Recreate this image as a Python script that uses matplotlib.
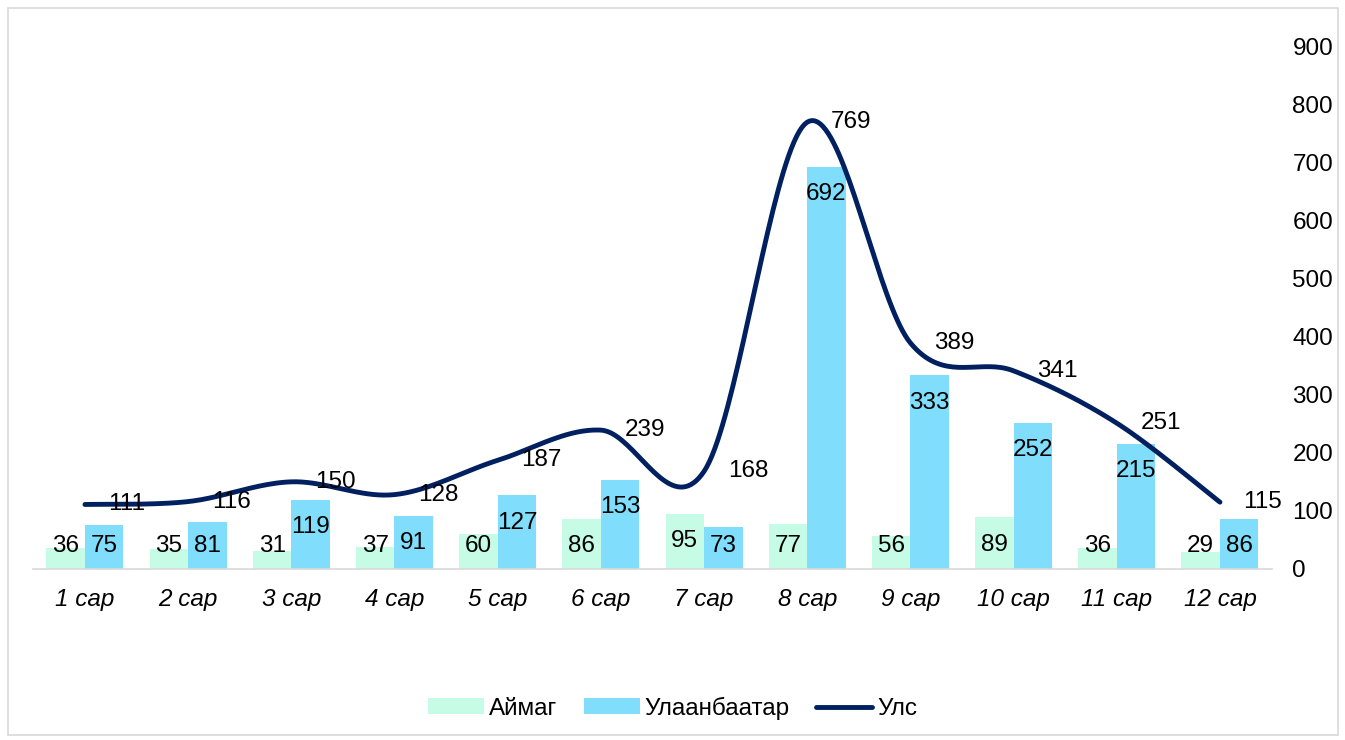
import numpy as np
import matplotlib.pyplot as plt
from matplotlib.patches import Rectangle

plt.rcParams['font.family'] = ['Liberation Sans', 'DejaVu Sans']

months = ['1 сар', '2 сар', '3 сар', '4 сар', '5 сар', '6 сар',
          '7 сар', '8 сар', '9 сар', '10 сар', '11 сар', '12 сар']
aimag = [36, 35, 31, 37, 60, 86, 95, 77, 56, 89, 36, 29]
ulaanbaatar = [75, 81, 119, 91, 127, 153, 73, 692, 333, 252, 215, 86]
uls = [111, 116, 150, 128, 187, 239, 168, 769, 389, 341, 251, 115]

c_aimag = '#C6FBE6'
c_ub = '#80DEFC'
c_uls = '#002060'
fs = 17.5


def smooth(x, y, n=40):
    # Excel-ийн гөлгөр шугам (Catmull-Rom, 1/6 хурцадмал)
    p = np.column_stack([x, y]).astype(float)
    pts = np.vstack([p[0], p, p[-1]])
    out = []
    t = np.linspace(0, 1, n)[:, None]
    for i in range(1, len(pts) - 2):
        p0, p1, p2, p3 = pts[i - 1], pts[i], pts[i + 1], pts[i + 2]
        c1 = p1 + (p2 - p0) / 6
        c2 = p2 - (p3 - p1) / 6
        seg = ((1 - t) ** 3) * p1 + 3 * ((1 - t) ** 2) * t * c1 + 3 * (1 - t) * t ** 2 * c2 + t ** 3 * p2
        out.append(seg if i == 1 else seg[1:])
    out = np.vstack(out)
    return out[:, 0], out[:, 1]


fig = plt.figure(figsize=(13.45, 7.4), dpi=100)
ax = fig.add_axes([0.0248, 0.2311, 0.9206, 0.7067])

x = np.arange(len(months))
w = 0.373
b1 = ax.bar(x - w / 2, aimag, width=w, color=c_aimag, label='Аймаг', zorder=2)
b2 = ax.bar(x + w / 2, ulaanbaatar, width=w, color=c_ub, label='Улаанбаатар', zorder=2)

sx, sy = smooth(x, uls)
line, = ax.plot(sx, sy, color=c_uls, lw=3.5, solid_capstyle='round', label='Улс', zorder=3)

# баганын утга (дотор дээд хэсэгт)
for bars, vals in [(b1, aimag), (b2, ulaanbaatar)]:
    for r, v in zip(bars, vals):
        ax.text(r.get_x() + r.get_width() / 2, max(v - 47, 40), str(v),
                ha='center', va='center', fontsize=fs, zorder=4)

# шугамын утга (баруун талд)
for i, v in enumerate(uls):
    ax.annotate(str(v), xy=(i, v), xytext=(17, 0), textcoords='offset points',
                ha='left', va='center', fontsize=fs, zorder=4)

ax.set_xlim(-0.5, len(months) - 0.5)
ax.set_ylim(0, 900)
ax.set_xticks(x, months)
for lbl in ax.get_xticklabels():
    lbl.set_fontstyle('italic')
ax.set_yticks(np.arange(0, 901, 100))
ax.yaxis.tick_right()
ax.tick_params(axis='y', length=0, pad=15, labelsize=fs)
ax.tick_params(axis='x', length=0, pad=14, labelsize=fs)
for s in ['top', 'left', 'right']:
    ax.spines[s].set_visible(False)
ax.spines['bottom'].set_color('#D9D9D9')
ax.spines['bottom'].set_linewidth(1.2)

fig.legend([b1, b2, line], ['Аймаг', 'Улаанбаатар', 'Улс'],
           loc='center', bbox_to_anchor=(0.5, 0.043), ncol=3, frameon=False,
           fontsize=fs, handlelength=2.3, handleheight=0.6, handletextpad=0.2,
           columnspacing=1.1)

fig.patches.append(Rectangle((8 / 1345, 5 / 740), 1330 / 1345, 727 / 740,
                             transform=fig.transFigure, fill=False,
                             edgecolor='#D9D9D9', lw=1.2))

fig.savefig('out.png', dpi=100)
